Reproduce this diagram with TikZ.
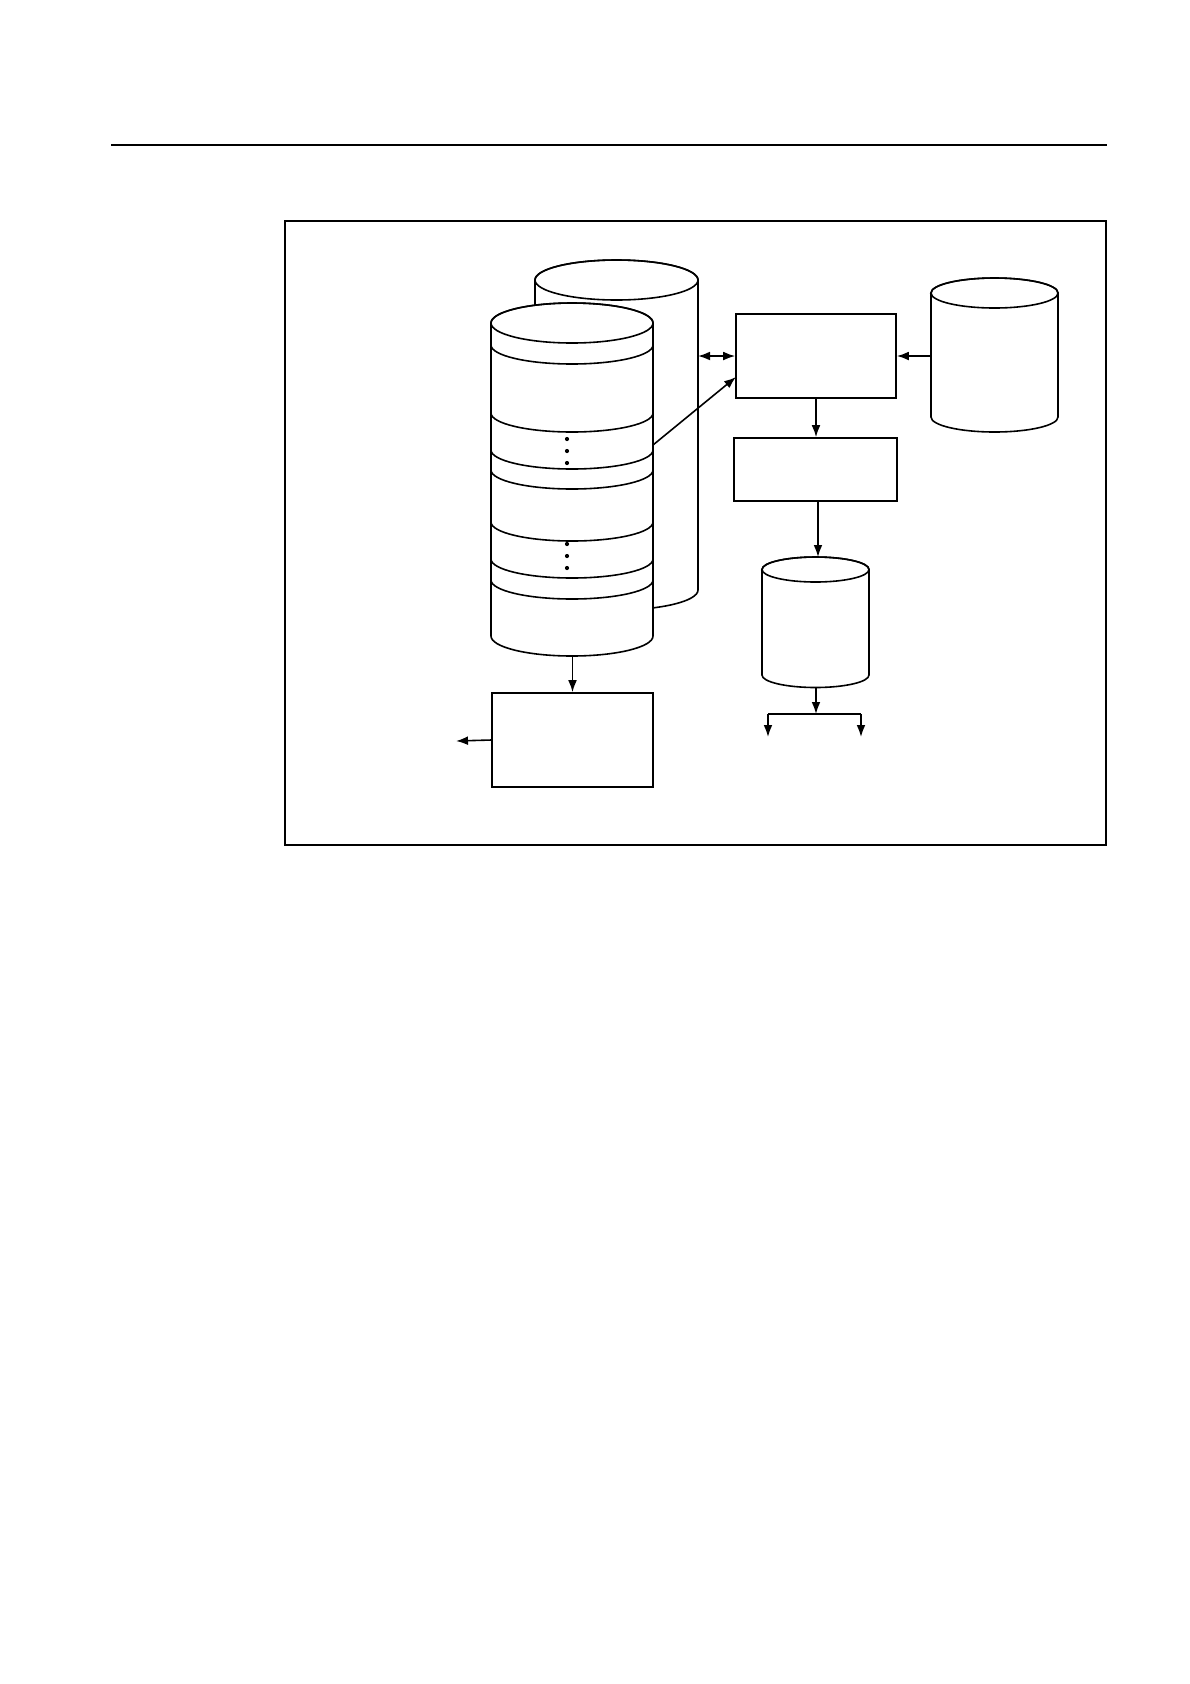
\documentclass[tikz,border=0pt]{standalone}
\usetikzlibrary{arrows.meta}
\newcommand\mycyl[5]{%
  \pgfmathsetmacro\myrxb{#2*0.5}%
  \pgfmathsetmacro\myryb{#5*0.5}%
  \filldraw[fill=white] (#1-#2,#3) -- (#1-#2,#4)
    arc[start angle=180,end angle=360,x radius=\myrxb bp,y radius=\myryb bp]
    -- (#1+#2,#3)
    arc[start angle=0,end angle=180,x radius=\myrxb bp,y radius=\myryb bp] -- cycle;
  \draw (#1,#3) ellipse[x radius=\myrxb bp,y radius=\myryb bp];
}
\newcommand\myband[4]{%
  \pgfmathsetmacro\myrxb{#2*0.5}%
  \pgfmathsetmacro\myryb{#4*0.5}%
  \draw (#1-#2,#3) arc[start angle=180,end angle=360,x radius=\myrxb bp,y radius=\myryb bp];
}
\begin{document}
\begin{tikzpicture}[x=0.5bp,y=-0.5bp,line width=0.8pt,
  box/.style={draw,inner sep=0pt,fill=white},
  arr/.style={-{Latex[length=6bp,width=4.4bp]}},
  darr/.style={{Latex[length=6bp,width=4.4bp]}-{Latex[length=6bp,width=4.4bp]}},
  dot/.style={circle,fill,inner sep=0pt,minimum size=2.1bp}]
\useasboundingbox (0,0) rectangle (1190,1684);
% header rule and frame
\draw (111,145) -- (1107,145);
\draw (285,221) rectangle (1106,845);
% back cylinder
\mycyl{616.5}{81.5}{280}{590}{20}
% front banded cylinder
\mycyl{572}{81}{323}{636}{20}
\foreach \e in {345,413,450,470,522,559,580} {\myband{572}{81}{\e}{19}}
\node[dot] (d1) at (567,439) {};
\node[dot] (d2) at (567,451) {};
\node[dot] (d3) at (567,463) {};
\node[dot] (d4) at (567,544) {};
\node[dot] (d5) at (567,556) {};
\node[dot] (d6) at (567,568) {};
% right cylinder
\mycyl{994.5}{63.5}{293}{417}{15}
% bottom cylinder
\mycyl{815.5}{53.5}{569.5}{675}{12.5}
% boxes
\node[box,minimum width=80bp,minimum height=42bp] (b1) at (816,356) {};
\node[box,minimum width=81.5bp,minimum height=31.5bp] (b2) at (815.5,469.5) {};
\node[box,minimum width=80.5bp,minimum height=47bp] (b3) at (572.5,740) {};
% connection points
\coordinate (backR) at (698,356);
\coordinate (frontR) at (653,445);
\coordinate (b1in) at (736,377);
\coordinate (rcL) at (931,356);
\coordinate (bcTop) at (818,557);
\coordinate (bcBot) at (816,688);
\coordinate (junc) at (816,714);
\coordinate (jl) at (768,714);
\coordinate (jr) at (861,714);
\coordinate (ol) at (768,737);
\coordinate (or) at (861,737);
\coordinate (fcBot) at (572.5,656);
\coordinate (outL) at (456,741);
% connectors
\draw[darr] (backR) -- (b1.west);
\draw[arr] (frontR) -- (b1in);
\draw[arr] (rcL) -- (b1.east);
\draw[arr] (b1.south) -- (b1.south |- b2.north);
\draw[arr] (b2.south -| bcTop) -- (bcTop);
\draw[arr] (bcBot) -- (junc);
\draw (jl) -- (jr);
\draw[arr] (jl) -- (ol);
\draw[arr] (jr) -- (or);
\draw[arr] (fcBot) -- (b3.north);
\draw[arr] (b3.west) -- (outL);
\end{tikzpicture}
\end{document}
